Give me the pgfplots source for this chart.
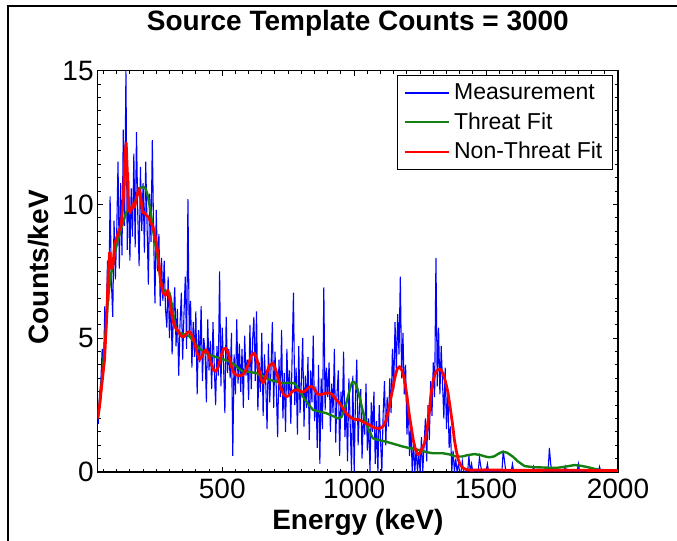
\documentclass[border=0pt]{standalone}
\usepackage{fontspec}
\setmainfont{Liberation Sans}
\usepackage{pgfplots}
\pgfplotsset{compat=1.18}
\definecolor{mblue}{RGB}{0,0,255}
\definecolor{tgreen}{RGB}{20,128,20}
\definecolor{nred}{RGB}{255,0,0}
\begin{document}
\begin{tikzpicture}
\path[use as bounding box] (-48.85pt,-34.5pt) rectangle (289.65pt,236pt);
\draw[line width=1pt] (-44.85pt,-40pt) -- (-44.85pt,233pt) -- (295pt,233pt);
\begin{axis}[
 scale only axis, width=260.15pt, height=200.65pt,
 xmin=28, xmax=2000, ymin=0, ymax=15,
 xtick={500,1000,1500,2000}, ytick={0,5,10,15},
 minor xtick={50,100,...,1950}, minor ytick={0.5,1,...,14.5},
 tick align=inside, major tick length=2.5pt, minor tick length=1.5pt,
 axis line style={line width=0.75pt},
 every tick/.style={black, line width=0.5pt},
 /pgf/number format/assume math mode=true,
 /pgf/number format/1000 sep={},
 tick label style={font=\fontsize{14}{16}\selectfont},
 yticklabel style={xshift=1.5pt},
 xlabel={Energy (keV)}, ylabel={Counts/keV},
 title={Source Template Counts = 3000},
 every axis title shift=0pt,
 label style={font=\fontsize{14}{16}\selectfont\bfseries},
 title style={font=\fontsize{14}{16}\selectfont\bfseries, at={(axis description cs:0.5,1.099)}, anchor=base},
 xlabel style={at={(axis description cs:0.5,-0.1445)}, anchor=base},
 ylabel style={at={(axis description cs:-0.0955,0.51)}, anchor=base},
 legend style={at={(axis description cs:0.9904,0.9893)}, anchor=north east,
   font=\fontsize{11.5}{13}\selectfont, draw=black, line width=0.6pt,
   row sep=1pt, inner xsep=3pt, inner ysep=2pt, cells={anchor=west}},
 legend image code/.code={\draw[#1] (0pt,0pt) -- (22pt,0pt);},
 clip=true,
]
\addplot[mblue, line width=0.55pt] coordinates {
(30,1.8)(35,2.9)(40,3.4)(45,4.6)(50,3.9)(55,6.2)(60,5.1)(65,7.9)(70,6.4)(75,10.3)
(80,7.1)(85,5.8)(90,9.4)(95,7.2)(100,8.9)(105,11.6)(110,7.6)(115,10.8)(120,8.1)(125,12.8)
(130,9.2)(135,15.0)(140,8.3)(145,11.2)(150,7.9)(155,10.6)(160,8.8)(165,11.9)(170,8.4)(175,12.7)
(180,9.6)(185,7.7)(190,11.4)(195,9.0)(200,10.8)(205,8.2)(210,11.6)(215,9.3)(220,7.0)(225,10.4)
(230,8.6)(235,12.4)(240,8.9)(245,6.3)(250,9.8)(255,7.5)(260,8.9)(265,6.2)(270,8.0)(275,6.4)
(280,7.9)(285,6.1)(290,5.4)(295,7.3)(300,5.0)(305,6.6)(310,4.4)(315,5.8)(320,6.9)(325,4.7)
(330,6.1)(335,3.6)(340,5.5)(345,6.7)(350,4.2)(355,5.9)(360,7.3)(365,4.6)(370,10.2)(375,5.1)
(380,6.4)(385,3.9)(390,5.6)(395,4.3)(400,6.0)(405,2.9)(410,5.3)(415,4.1)(420,6.2)(425,3.4)
(430,5.0)(435,4.5)(440,2.6)(445,5.7)(450,3.8)(455,4.9)(460,3.1)(465,5.6)(470,3.9)(475,2.5)
(480,4.7)(485,3.6)(490,7.5)(495,3.2)(500,5.4)(505,4.0)(510,2.2)(515,5.8)(520,3.7)(525,4.6)
(530,3.5)(535,5.2)(540,0.6)(545,4.4)(550,2.9)(555,5.7)(560,3.3)(565,4.8)(570,3.0)(575,4.6)
(580,2.4)(585,5.1)(590,3.6)(595,4.2)(600,2.7)(605,5.5)(610,3.1)(615,4.9)(620,5.8)(625,3.4)
(630,6.0)(635,2.3)(640,4.1)(645,3.0)(650,5.2)(655,2.1)(660,4.4)(665,3.3)(670,1.6)(675,4.8)
(680,2.6)(685,3.9)(690,5.6)(695,2.4)(700,4.5)(705,3.1)(710,1.3)(715,4.2)(720,2.8)(725,5.3)
(730,2.0)(735,3.7)(740,1.5)(745,4.6)(750,2.9)(755,3.8)(760,1.8)(765,4.4)(770,6.7)(775,2.5)
(780,3.9)(785,1.4)(790,4.7)(795,2.2)(800,3.4)(805,5.0)(810,1.7)(815,3.6)(820,2.4)(825,4.3)
(830,1.2)(835,3.8)(840,2.6)(845,5.1)(850,1.9)(855,3.2)(860,0.9)(865,4.0)(870,0.3)(875,3.5)
(880,1.6)(885,6.9)(890,2.3)(895,3.9)(900,2.8)(905,4.1)(910,1.5)(915,3.3)(920,2.2)(925,4.6)
(930,1.1)(935,2.9)(940,3.8)(945,0.6)(950,3.0)(955,2.1)(960,4.5)(965,1.3)(970,2.6)(975,0.4)
(980,3.5)(985,1.8)(990,0.0)(995,3.6)(1000,0.0)(1005,2.7)(1010,4.2)(1015,1.0)(1020,2.4)(1025,3.1)
(1030,0.5)(1035,2.2)(1040,1.4)(1045,3.3)(1050,0.8)(1055,2.0)(1060,0.0)(1065,2.6)(1070,1.5)(1075,3.0)
(1080,0.3)(1085,1.9)(1090,0.0)(1095,2.5)(1100,1.2)(1105,0.0)(1110,2.2)(1115,3.4)(1120,1.0)(1125,2.8)
(1130,1.7)(1135,3.5)(1140,2.2)(1145,4.6)(1150,3.1)(1155,5.6)(1160,3.8)(1165,5.9)(1170,4.4)(1175,7.3)
(1180,3.5)(1185,5.2)(1190,2.9)(1195,4.0)(1200,1.4)(1205,2.6)(1210,0.6)(1215,1.8)(1220,0.0)(1225,1.1)
(1230,0.0)(1235,0.9)(1240,0.0)(1245,0.7)(1250,0.0)(1255,1.3)(1260,0.0)(1265,1.0)(1270,2.0)(1275,0.4)
(1280,2.5)(1285,1.2)(1290,3.4)(1295,2.1)(1300,4.1)(1305,2.8)(1310,8.0)(1315,3.2)(1320,5.4)(1325,2.9)
(1330,4.7)(1335,3.3)(1340,2.0)(1345,3.9)(1350,1.6)(1355,3.1)(1360,0.9)(1365,1.7)(1370,0.0)(1375,0.8)
(1380,0.0)(1385,0.5)(1390,0.0)(1395,0.3)(1400,0.0)(1405,0.0)(1410,0.4)(1415,0.0)(1430,0.0)(1435,0.6)
(1440,0.0)(1445,0.3)(1450,0.0)(1470,0.0)(1475,0.55)(1480,0.2)(1485,0.0)(1500,0.0)(1505,0.3)(1510,0.0)
(1560,0.0)(1565,0.8)(1570,0.4)(1575,0.0)(1595,0.0)(1600,0.3)(1605,0.0)(1675,0.0)(1680,0.2)(1685,0.0)
(1735,0.0)(1740,0.9)(1745,0.3)(1750,0.0)(1795,0.0)(1800,0.2)(1805,0.0)(1845,0.0)(1850,0.3)(1855,0.0)
(1925,0.0)(1930,0.2)(1935,0.0)(2000,0.0)
};
\addlegendentry{Measurement}
\addplot[tgreen, line width=1.2pt, line join=round] coordinates {
(28,2.0)(35,2.5)(45,3.5)(52,4.4)(60,5.45)(68,6.6)(79,7.4)(90,8.0)(98,8.4)(105,8.7)
(115,9.0)(125,9.35)(136,9.7)(148,9.85)(161,9.9)(170,10.1)(180,10.4)(187,10.6)(195,10.65)(202,10.65)
(209,10.6)(216,10.4)(224,10.0)(231,9.56)(240,8.9)(248,8.4)(256,7.94)(265,7.3)(275,6.8)(287,6.75)
(300,6.7)(310,6.2)(318,5.7)(326,5.3)(340,5.2)(355,5.15)(376,5.07)(390,4.9)(401,4.76)(415,4.6)
(430,4.5)(452,4.38)(475,4.3)(500,4.22)(528,4.13)(550,3.98)(565,3.85)(578,3.76)(600,3.74)(629,3.7)
(655,3.58)(679,3.45)(705,3.38)(730,3.32)(755,3.33)(774,3.32)(790,3.1)(806,2.82)(825,2.55)(844,2.32)
(868,2.26)(894,2.2)(918,2.1)(939,2.0)(952,2.05)(962,2.3)(970,2.57)(980,2.95)(988,3.25)(995,3.38)
(1003,3.35)(1014,3.07)(1025,2.6)(1036,2.15)(1046,1.82)(1058,1.5)(1071,1.26)(1090,1.2)(1122,1.13)(1150,1.05)
(1185,0.95)(1215,0.88)(1248,0.82)(1275,0.74)(1299,0.7)(1320,0.7)(1337,0.7)(1360,0.66)(1387,0.58)(1410,0.58)
(1430,0.63)(1456,0.67)(1480,0.63)(1500,0.57)(1513,0.55)(1530,0.58)(1550,0.7)(1564,0.76)(1580,0.72)(1602,0.57)
(1620,0.4)(1646,0.22)(1680,0.18)(1709,0.17)(1740,0.16)(1772,0.16)(1800,0.2)(1836,0.26)(1860,0.23)(1886,0.18)
(1910,0.12)(1937,0.07)(1970,0.06)(2000,0.05)
};
\addlegendentry{Threat Fit}
\addplot[nred, line width=1.4pt, line join=round] coordinates {
(28,2.0)(35,2.45)(45,3.4)(54,4.2)(62,5.8)(68,7.4)(73,8.2)(80,7.6)(86,7.7)(92,8.5)
(98,8.7)(108,9.0)(117,9.2)(125,10.2)(131,11.8)(136,12.3)(141,11.0)(145,9.8)(152,9.7)(160,10.0)
(168,9.9)(176,10.3)(184,10.6)(192,10.2)(198,9.7)(205,9.7)(212,9.6)(222,9.5)(230,9.3)(237,9.2)
(246,8.8)(256,8.2)(266,7.2)(275,6.7)(285,6.6)(294,6.8)(302,6.4)(310,5.8)(319,5.45)(330,5.3)
(340,5.15)(348,5.05)(357,5.07)(366,5.2)(376,5.25)(386,5.1)(396,4.8)(405,4.45)(414,4.2)(422,4.3)
(430,4.5)(439,4.57)(448,4.4)(458,4.05)(468,3.8)(477,3.76)(486,3.95)(496,4.35)(505,4.6)(515,4.63)
(525,4.35)(535,3.95)(544,3.7)(553,3.63)(565,3.6)(578,3.63)(590,3.8)(600,4.05)(610,4.35)(622,4.45)
(632,4.2)(640,3.8)(648,3.45)(654,3.32)(662,3.45)(670,3.75)(680,4.0)(692,4.07)(702,3.85)(712,3.5)
(722,3.15)(732,2.9)(743,2.82)(752,2.85)(762,2.97)(772,3.05)(780,3.07)(790,3.05)(799,3.0)(810,3.0)
(822,3.1)(830,3.18)(837,3.2)(845,3.15)(853,3.03)(861,2.92)(869,2.88)(878,2.9)(888,2.94)(898,2.95)
(907,2.95)(916,2.9)(926,2.78)(936,2.66)(945,2.57)(955,2.42)(964,2.28)(974,2.15)(983,2.07)(993,2.0)
(1003,1.97)(1012,1.96)(1020,1.95)(1030,1.9)(1040,1.84)(1048,1.8)(1058,1.76)(1068,1.7)(1078,1.65)(1088,1.63)
(1096,1.63)(1104,1.66)(1112,1.74)(1122,1.95)(1130,2.3)(1140,2.8)(1147,3.15)(1155,3.55)(1163,3.85)(1172,3.94)
(1181,3.8)(1191,3.45)(1200,2.85)(1208,2.2)(1216,1.7)(1224,1.2)(1232,0.85)(1242,0.64)(1250,0.72)(1258,0.9)
(1267,1.07)(1275,1.5)(1284,2.2)(1292,2.95)(1300,3.45)(1310,3.75)(1320,3.85)(1330,3.82)(1340,3.6)(1348,3.3)
(1356,2.95)(1364,2.4)(1372,1.85)(1380,1.2)(1387,0.8)(1395,0.45)(1403,0.26)(1412,0.15)(1425,0.09)(1440,0.07)
(1450,0.07)(1500,0.08)(1560,0.07)(1600,0.06)(1700,0.06)(1800,0.07)(1900,0.06)(2000,0.05)
};
\addlegendentry{Non-Threat Fit}
\end{axis}
\end{tikzpicture}
\end{document}
